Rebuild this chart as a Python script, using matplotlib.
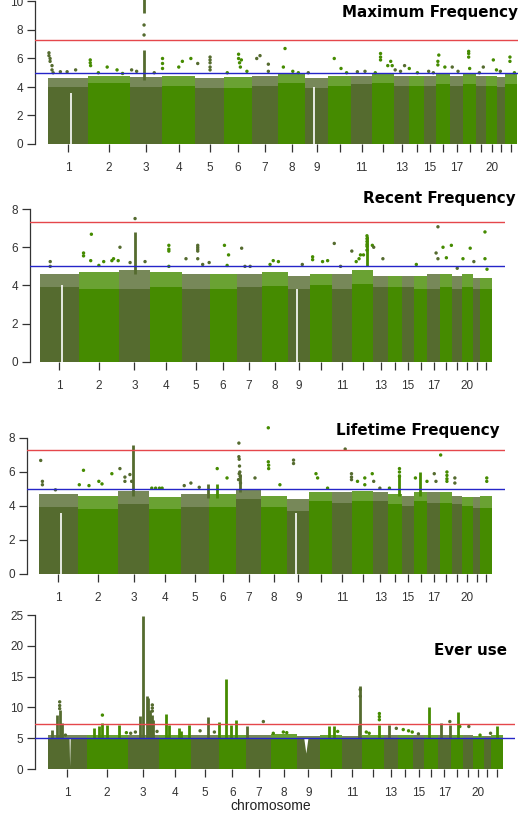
import numpy as np
import matplotlib.pyplot as plt

# chromosome lengths (Mb, hg19), used to turn positions into a fraction of the chromosome
chrom_len = [249, 243, 198, 191, 181, 171, 159, 146, 141, 136, 135,
             134, 115, 107, 103, 90, 81, 78, 59, 63, 48, 51]
# relative width each chromosome takes on the x axis
chrom_span = [40, 42, 32, 33, 29, 28, 26, 27, 23, 23, 21,
              22, 15, 15, 12, 14, 13, 13, 10, 11, 8, 12]
chrom_shown = [1, 2, 3, 4, 5, 6, 7, 8, 9, 11, 13, 15, 17, 20]
panel_titles = ["Maximum Frequency", "Recent Frequency", "Lifetime Frequency", "Ever use"]

# ---- Maximum Frequency ----
max_body = [4.0, 4.25, 4.0, 4.1, 3.9, 3.9, 4.1, 4.3, 3.9, 4.1, 4.2,
            4.3, 4.1, 4.1, 4.1, 4.2, 4.1, 4.2, 4.1, 4.1, 4.0, 4.2]
max_fringe = [4.6, 4.8, 4.7, 4.8, 4.6, 4.7, 4.8, 4.9, 4.6, 4.8, 4.8,
              4.9, 4.8, 4.8, 4.8, 4.9, 4.8, 4.9, 4.8, 4.8, 4.7, 4.9]
max_pt_chr = [1, 1, 1, 1, 1, 1, 1, 1, 1, 1, 2, 2, 2, 2, 2, 3, 3, 3, 3, 4, 4, 4, 4, 4, 4,
              5, 5, 5, 5, 5, 5, 6, 6, 6, 6, 6, 7, 7, 7, 7, 8, 8, 10, 10, 11,
              12, 12, 12, 12, 12, 12, 13, 13, 14, 16, 16, 16, 16, 17, 18, 18, 18, 18,
              19, 20, 20, 22, 22,
              2, 2, 3, 6, 6, 8, 8, 9, 10, 11, 12, 13, 14, 15, 15, 17, 19, 21, 22]
max_pt_mb = [6, 6, 13, 13, 25, 25, 32, 77, 119, 172, 13, 13, 15, 111, 168, 10, 41, 87, 87,
             3, 3, 3, 97, 118, 167, 17, 94, 94, 94, 94, 94, 89, 89, 95, 100, 106,
             29, 49, 100, 100, 38, 29, 37, 77, 41, 52, 52, 52, 96, 114, 123, 9, 81, 2,
             18, 12, 12, 57, 14, 34, 34, 34, 40, 43, 42, 60, 21, 21,
             60, 200, 150, 20, 140, 80, 110, 20, 110, 90, 20, 50, 60, 40, 80, 50, 20, 20, 40]
max_pt_val = [6.4, 6.2, 6.0, 5.8, 5.5, 5.2, 5.0, 5.07, 5.07, 5.2, 5.9, 5.7, 5.5, 5.4, 5.2,
              5.2, 5.1, 8.35, 7.65, 6.0, 5.65, 5.3, 5.4, 5.8, 6.0, 5.65, 6.1, 5.9, 5.7, 5.4, 5.2,
              6.3, 6.0, 5.7, 5.4, 5.9, 6.0, 6.2, 5.6, 5.1, 6.7, 5.4, 6.0, 5.3, 5.07,
              6.35, 6.1, 5.9, 5.5, 5.8, 5.5, 5.2, 5.5, 5.3, 6.24, 5.8, 5.55, 5.4, 5.4,
              6.5, 6.35, 6.1, 5.3, 5.4, 5.9, 5.2, 6.1, 5.8,
              5.0, 4.95, 5.0, 5.0, 5.1, 5.1, 5.0, 5.0, 5.0, 5.1, 5.0, 5.1, 5.0, 5.1, 5.0, 5.1, 5.0, 5.1, 5.0]
max_col_chr = [3, 3]
max_col_mb = [87, 87]
max_col_lo = [4.5, 9.2]
max_col_hi = [6.6, 11.0]

# ---- Recent Frequency ----
rec_body = [3.9, 3.8, 3.8, 3.9, 3.8, 3.8, 3.9, 3.95, 3.8, 4.0, 3.8,
            4.1, 3.9, 3.9, 3.9, 3.8, 3.8, 3.9, 3.8, 3.9, 3.8, 3.8]
rec_fringe = [4.6, 4.7, 4.8, 4.7, 4.6, 4.6, 4.6, 4.7, 4.5, 4.6, 4.6,
              4.8, 4.5, 4.5, 4.5, 4.5, 4.6, 4.6, 4.5, 4.6, 4.4, 4.4]
rec_pt_chr = [1, 1, 2, 2, 2, 2, 2, 2, 2, 2, 2, 3, 3, 3, 3, 4, 4, 4, 4,
              5, 5, 5, 5, 5, 5, 5, 5, 6, 6, 6, 7, 7, 7, 8, 8, 8, 9, 10, 10, 10, 10,
              11, 11, 11, 12, 12, 12, 12, 12, 12, 12, 12, 12, 12, 12,
              13, 13, 16, 17, 17, 17, 18, 18, 18, 19, 20, 20, 21, 22, 22, 22]
rec_pt_mb = [66, 66, 30, 30, 77, 73, 122, 151, 200, 210, 238, 6, 71, 103, 167, 114, 114, 114, 114,
             28, 104, 104, 104, 104, 104, 136, 178, 94, 120, 111, 32, 53, 86, 65, 94, 47, 93,
             17, 17, 78, 109, 15, 57, 132, 25, 43, 52, 71, 93, 93, 93, 93, 93, 93, 127,
             2, 75, 16, 56, 68, 68, 19, 40, 71, 29, 5, 48, 7, 20, 20, 29]
rec_pt_val = [5.25, 5.0, 5.7, 5.55, 6.68, 5.3, 5.05, 5.25, 5.3, 5.4, 5.3, 6.0, 5.2, 7.5, 5.25,
              6.1, 5.9, 5.8, 5.0, 5.4, 6.1, 6.0, 5.9, 5.8, 5.4, 5.1, 5.2, 6.1, 5.6, 5.05,
              5.95, 5.0, 5.0, 5.3, 5.25, 5.1, 5.1, 5.5, 5.35, 5.25, 5.3, 6.2, 5.0, 5.8,
              5.25, 5.4, 5.6, 5.6, 6.6, 6.45, 6.3, 6.15, 6.05, 5.85, 6.1,
              6.0, 5.4, 5.1, 5.7, 7.07, 5.4, 6.0, 5.45, 6.1, 4.9, 5.4, 5.95, 5.25, 6.8, 5.4, 4.85]
rec_col_chr = [3, 12]
rec_col_mb = [103, 93]
rec_col_lo = [4.6, 5.0]
rec_col_hi = [6.8, 6.6]

# ---- Lifetime Frequency ----
life_body = [3.95, 3.8, 4.1, 3.8, 3.95, 3.95, 4.4, 3.95, 3.7, 4.3, 4.2,
             4.3, 4.3, 4.1, 4.0, 4.3, 4.2, 4.2, 4.1, 4.0, 3.9, 3.9]
life_fringe = [4.7, 4.6, 4.9, 4.5, 4.7, 4.7, 5.0, 4.6, 4.4, 4.8, 4.8,
               4.9, 4.8, 4.7, 4.6, 4.8, 4.8, 4.8, 4.6, 4.5, 4.5, 4.6]
life_pt_chr = [1, 1, 1, 1, 2, 2, 2, 2, 2, 2, 3, 3, 3, 3, 3, 4, 4, 4, 4, 5, 5, 5, 6, 6,
               7, 7, 7, 7, 7, 7, 7, 7, 7, 7, 8, 8, 8, 8, 8, 9, 9, 10, 10, 10,
               11, 11, 11, 11, 12, 12, 12, 12, 13, 13, 14, 14, 14, 14, 16, 16,
               17, 17, 18, 18, 18, 18, 18, 19, 19, 22, 22]
life_pt_mb = [11, 22, 22, 106, 10, 35, 68, 127, 146, 205, 11, 43, 43, 75, 86, 16, 39, 62, 78,
              21, 64, 118, 52, 114, 18, 18, 20, 22, 24, 20, 26, 16, 28, 120, 40, 40, 42, 42, 105,
              40, 40, 40, 50, 111, 90, 132, 132, 132, 35, 81, 81, 128, 4, 53, 13, 87, 87, 87,
              11, 88, 45, 56, 5, 44, 44, 44, 44, 15, 15, 28, 28]
life_pt_val = [6.68, 5.45, 5.25, 4.95, 5.25, 6.1, 5.2, 5.45, 5.3, 5.9, 6.2, 5.7, 5.45, 5.85, 5.45,
               5.05, 5.05, 5.05, 5.05, 5.2, 5.35, 5.1, 6.2, 5.65,
               7.7, 6.9, 6.75, 6.35, 6.0, 5.9, 5.75, 5.55, 5.35, 5.65, 8.6, 6.6, 6.4, 6.2, 5.25,
               6.7, 6.5, 5.9, 5.65, 5.05, 7.35, 5.9, 5.7, 5.55, 5.45, 5.65, 5.25, 5.9,
               5.45, 5.05, 5.05, 6.2, 6.0, 5.75, 5.65, 5.45, 5.9, 5.45, 7.0, 6.0, 5.8, 5.6, 5.45,
               5.65, 5.35, 5.65, 5.45]
life_col_chr = [3, 14, 16, 5, 6, 7]
life_col_mb = [96, 87, 40, 172, 52, 22]
life_col_lo = [4.6, 4.6, 4.6, 4.5, 4.5, 4.8]
life_col_hi = [7.6, 5.9, 6.0, 5.3, 5.3, 5.9]

# ---- Ever use ----
ever_body = [4.9] * 22
ever_fringe = [5.5, 5.6, 5.5, 5.6, 5.5, 5.6, 5.6, 5.7, 5.4, 5.6, 5.4,
               5.6, 5.6, 5.6, 5.5, 5.5, 5.5, 5.6, 5.5, 5.4, 5.4, 5.5]
ever_pt_chr = [1, 1, 1, 1, 2, 2, 3, 3, 3, 3, 3, 3, 5, 5, 7, 8, 8, 8, 10,
               11, 11, 12, 12, 12, 12, 12, 13, 14, 14, 14, 15, 17, 18, 19, 20, 21]
ever_pt_mb = [75, 75, 75, 112, 93, 236, 20, 50, 158, 158, 158, 188, 61, 153, 110, 12, 68, 87, 110,
              121, 121, 25, 43, 107, 107, 107, 100, 37, 76, 103, 50, 76, 57, 34, 42, 43]
ever_pt_val = [10.9, 10.3, 9.8, 5.5, 8.75, 5.9, 5.8, 6.0, 10.4, 9.9, 9.4, 6.1, 6.2, 6.0, 7.7,
               5.8, 6.0, 5.9, 6.1, 12.9, 11.8, 6.0, 5.8, 9.0, 8.5, 8.0, 6.6, 6.4, 6.2, 6.0,
               5.7, 7.7, 6.9, 6.9, 5.5, 5.8]
ever_col_chr = [1, 1, 1, 1, 2, 2, 2, 2, 2, 3, 3, 3, 3, 3, 3, 3, 4, 4, 4, 4, 4,
                5, 6, 6, 6, 6, 7, 10, 10, 11, 11, 12, 13, 16, 17, 17, 18, 22]
ever_col_mb = [24, 57, 75, 90, 43, 73, 93, 122, 190, 80, 97, 123, 133, 144, 158, 165,
               46, 60, 120, 131, 181, 114, 4, 45, 75, 109, 5, 59, 90, 111, 121, 107, 39,
               32, 18, 76, 47, 24]
ever_col_hi = [6.3, 8.75, 9.5, 7.4, 6.6, 7.0, 7.5, 7.1, 7.1, 8.6, 24.8, 11.85, 11.5, 9.6, 8.8, 8.0,
               9.0, 7.2, 6.7, 6.2, 7.2, 8.5, 7.7, 14.6, 7.1, 7.95, 6.9, 6.9, 6.9, 7.1, 13.4,
               7.1, 7.1, 10.1, 7.4, 7.1, 9.3, 6.9]
ever_col_lo = [4.9] * len(ever_col_hi)

# centromere gaps (chr1, chr9)
gap_chr = [1, 9]
gap_mb = [142, 57]
gap_lo = [[0, 0], [0, 0], [0, 0], [0.4, 2.5]]
gap_hi = [[3.6, 4.0], [4.0, 3.8], [3.6, 3.6], [5.0, 5.0]]

DARK = "#556B2F"
GREEN = "#458B00"
W, H = 518, 813

starts = np.concatenate([[0], np.cumsum(chrom_span)[:-1]])
total = float(np.sum(chrom_span))
centers = starts + np.array(chrom_span) / 2.0
colors = [DARK if i % 2 == 0 else GREEN for i in range(22)]


def gpos(chrs, mbs):
    return np.array([starts[c - 1] + chrom_span[c - 1] * m / chrom_len[c - 1]
                     for c, m in zip(chrs, mbs)])


def draw_panel(fig, box, ymax, yticks, body, fringe, pt_chr, pt_mb, pt_val,
               col_chr, col_mb, col_lo, col_hi, glo, ghi, vgap=False):
    spine, right, d0, d1, y0, ppu = box
    ax = fig.add_axes([spine / W, (H - y0) / H, (right - spine) / W, ymax * ppu / H])
    scale = (d1 - d0) / total
    ax.set_xlim(-(d0 - spine) / scale, total + (right - d1) / scale)
    ax.set_ylim(0, ymax)

    ax.bar(starts, body, width=chrom_span, align="edge", color=colors, lw=0, zorder=1)
    # looser upper edge of the dense point cloud
    ax.bar(starts, np.array(fringe) - np.array(body), bottom=body, width=chrom_span,
           align="edge", color=colors, alpha=0.8, lw=0, zorder=1)

    gx = gpos(gap_chr, gap_mb)
    for x, lo, hi in zip(gx, glo, ghi):
        if vgap:
            w = 0.6 if lo < 1 else 2.2
            ax.fill([x - w, x + w, x], [hi, hi, lo], color="white", lw=0, zorder=2)
        else:
            ax.vlines(x, lo, hi, color="white", lw=1.2, zorder=2)

    cx = gpos(col_chr, col_mb)
    ccol = [colors[c - 1] for c in col_chr]
    ax.vlines(cx, col_lo, col_hi, colors=ccol, lw=2.0, zorder=3)

    px = gpos(pt_chr, pt_mb)
    pcol = [colors[c - 1] for c in pt_chr]
    ax.scatter(px, pt_val, s=6, c=pcol, lw=0, zorder=3)

    ax.axhline(7.3, color="#e5474b", lw=1.0, zorder=4)
    ax.axhline(5.0, color="#2525c8", lw=1.0, zorder=4)

    for s in ["top", "right", "bottom"]:
        ax.spines[s].set_visible(False)
    ax.spines["left"].set_bounds(yticks[0], yticks[-1])
    ax.spines["left"].set_linewidth(0.9)
    ax.spines["left"].set_color("#333333")
    ax.set_yticks(yticks)
    ax.set_yticklabels([str(t) for t in yticks])
    ax.set_xticks(centers)
    ax.set_xticklabels([str(i + 1) if (i + 1) in chrom_shown else "" for i in range(22)])
    ax.tick_params(axis="y", length=6, width=0.9, pad=2.5, labelsize=8.5,
                   color="#333333", labelcolor="#333333")
    ax.tick_params(axis="x", length=5.5, width=0.9, pad=7.5, labelsize=8.5,
                   color="#333333", labelcolor="#333333")
    for lab in ax.get_xticklabels() + ax.get_yticklabels():
        lab.set_fontfamily(["Liberation Sans", "DejaVu Sans"])
    return ax


fig = plt.figure(figsize=(W / 100, H / 100), dpi=100)

draw_panel(fig, (35, 522, 48, 517, 144, 14.25), 10.6, [0, 2, 4, 6, 8, 10],
           max_body, max_fringe, max_pt_chr, max_pt_mb, max_pt_val,
           max_col_chr, max_col_mb, max_col_lo, max_col_hi, gap_lo[0], gap_hi[0])
draw_panel(fig, (30, 505, 40, 492, 362, 19.125), 8.25, [0, 2, 4, 6, 8],
           rec_body, rec_fringe, rec_pt_chr, rec_pt_mb, rec_pt_val,
           rec_col_chr, rec_col_mb, rec_col_lo, rec_col_hi, gap_lo[1], gap_hi[1])
draw_panel(fig, (27, 505, 39, 492, 574, 17.0), 8.8, [0, 2, 4, 6, 8],
           life_body, life_fringe, life_pt_chr, life_pt_mb, life_pt_val,
           life_col_chr, life_col_mb, life_col_lo, life_col_hi, gap_lo[2], gap_hi[2])
draw_panel(fig, (35, 515, 48, 503, 769, 6.16), 25.6, [0, 5, 10, 15, 20, 25],
           ever_body, ever_fringe, ever_pt_chr, ever_pt_mb, ever_pt_val,
           ever_col_chr, ever_col_mb, ever_col_lo, ever_col_hi, gap_lo[3], gap_hi[3],
           vgap=True)

# panel titles (right aligned)
title_pos = [(518, 12), (516, 199), (500, 430), (507, 650)]
for t, (x, y) in zip(panel_titles, title_pos):
    fig.text(x / W, 1 - y / H, t, ha="right", va="center", fontsize=10.9,
             fontweight="bold", color="black")

fig.text(271 / W, 1 - 806 / H, "chromosome", ha="center", va="center", fontsize=10,
         family=["Liberation Sans", "DejaVu Sans"], color="#222222")

fig.savefig("out.png", dpi=100)
